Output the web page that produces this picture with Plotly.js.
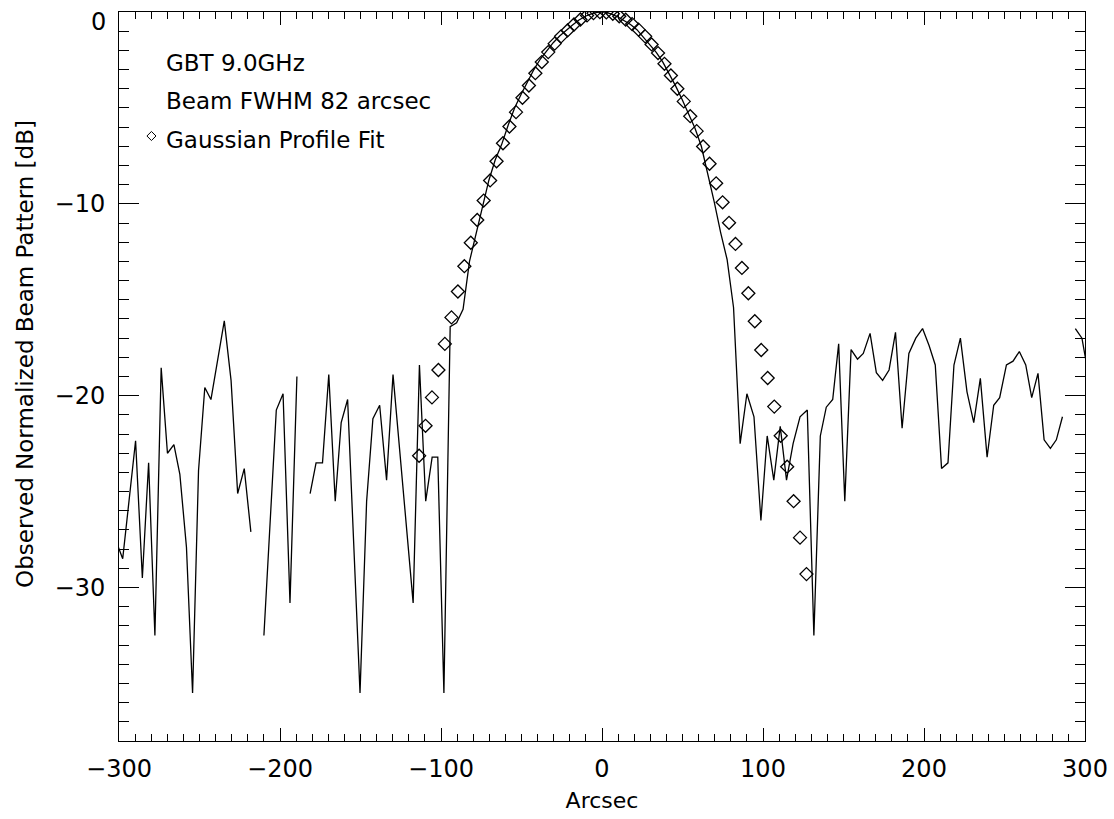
<!DOCTYPE html>
<html>
<head>
<meta charset="utf-8">
<script src="https://cdn.plot.ly/plotly-3.0.1.min.js"></script>
<style>html,body{margin:0;padding:0;background:#fff;}#chart{width:1114px;height:819px;}</style>
</head>
<body>
<div id="chart"></div>
<script>
// Observed beam pattern (arcsec, dB); null = gap in the measured line
const lineX = [-301.7, -297.7, -289.7, -285.5, -281.6, -277.7, -273.8, -269.9, -265.9, -262.2, -258.1, -254.3, -250.6, -246.7, -242.9, -238.7, -234.6, -230.4, -226.3, -222.2, -218.1, -214.0, -210.0, -202.3, -198.1, -193.8, -189.5, -185.4, -181.3, -177.6, -173.6, -169.7, -165.7, -162.0, -158.0, -150.3, -146.2, -142.3, -138.1, -133.8, -129.8, -117.3, -113.4, -109.5, -105.5, -102.0, -98.2, -94.3, -90.3, -86.3, -82.3, -78.3, -74.3, -70.3, -66.3, -62.3, -58.3, -54.3, -50.3, -46.3, -42.3, -38.3, -34.3, -30.3, -26.3, -22.3, -18.3, -14.3, -10.3, -6.3, -2.3, 1.7, 5.7, 9.7, 13.7, 17.7, 21.7, 25.7, 29.7, 33.7, 37.7, 41.7, 45.7, 49.7, 53.7, 57.7, 61.7, 65.7, 69.7, 73.7, 77.7, 81.7, 85.8, 90.0, 94.4, 98.7, 102.6, 106.7, 110.7, 114.6, 118.7, 123.0, 127.5, 131.6, 135.6, 139.3, 143.3, 147.0, 150.8, 154.7, 158.7, 162.3, 166.5, 170.4, 174.3, 178.3, 182.3, 186.4, 190.6, 194.9, 199.1, 203.2, 207.0, 210.9, 214.9, 218.6, 222.6, 226.7, 230.9, 235.0, 239.2, 243.3, 247.0, 251.2, 255.3, 259.2, 263.2, 266.9, 270.8, 274.6, 278.5, 282.2, 286.0, 290.0, 294.0, 298.1, 302.1];
const lineY = [-27.6, -28.5, -22.35, -29.5, -23.5, -32.5, -18.55, -23.0, -22.55, -24.1, -27.9, -35.5, -23.9, -19.57, -20.2, -18.1, -16.1, -19.2, -25.1, -23.8, -27.1, null, -32.5, -20.75, -19.9, -30.8, -19.0, null, -25.1, -23.5, -23.5, -18.9, -25.5, -21.4, -20.2, -35.5, -25.5, -21.2, -20.5, -24.4, -18.9, -30.8, -18.4, -25.5, -23.2, -23.2, -35.5, -16.4, -16.2, -15.5, -13.0, -11.55, -10.1, -8.78, -7.7, -6.9, -5.9, -5.0, -4.3, -3.65, -3.0, -2.45, -2.0, -1.6, -1.25, -0.95, -0.68, -0.42, -0.22, -0.08, -0.01, -0.01, -0.1, -0.25, -0.45, -0.65, -0.92, -1.3, -1.68, -2.1, -2.6, -3.2, -3.85, -4.55, -5.3, -6.05, -7.0, -8.4, -9.9, -11.5, -12.9, -15.4, -22.5, -19.9, -21.1, -26.5, -22.1, -24.4, -21.6, -24.4, -22.5, -21.1, -20.75, -32.5, -22.1, -20.6, -20.2, -17.3, -25.5, -17.6, -18.1, -17.8, -16.75, -18.8, -19.2, -18.66, -16.7, -21.7, -17.8, -17.0, -16.5, -17.4, -18.4, -23.8, -23.5, -18.4, -17.0, -19.8, -21.4, -19.1, -23.2, -20.5, -20.1, -18.4, -18.2, -17.7, -18.4, -20.1, -18.84, -22.3, -22.75, -22.3, -21.1, null, -16.5, -17.0, -18.9];

// Gaussian profile fit (diamonds)
const fitX = [-113.6, -109.6, -105.6, -101.6, -97.6, -93.5, -89.5, -85.5, -81.5, -77.5, -73.5, -69.5, -65.5, -61.5, -57.5, -53.4, -49.4, -45.4, -41.4, -37.4, -33.4, -29.4, -25.4, -21.4, -17.4, -13.4, -9.3, -5.3, -1.3, 2.7, 6.7, 10.7, 14.7, 18.7, 22.7, 26.8, 30.8, 34.8, 38.8, 42.8, 46.8, 50.8, 54.8, 58.8, 62.8, 66.8, 70.9, 74.9, 78.9, 82.9, 86.9, 90.9, 94.9, 98.9, 102.9, 107.0, 111.0, 115.0, 119.0, 123.0, 127.0];
const fitY = [-23.13, -21.57, -20.09, -18.66, -17.30, -15.92, -14.57, -13.25, -12.03, -10.84, -9.83, -8.78, -7.78, -6.84, -5.97, -5.22, -4.47, -3.83, -3.19, -2.61, -2.09, -1.65, -1.27, -0.96, -0.65, -0.39, -0.18, -0.06, -0.01, -0.02, -0.09, -0.22, -0.40, -0.63, -0.92, -1.27, -1.69, -2.14, -2.70, -3.31, -4.00, -4.66, -5.43, -6.21, -7.01, -7.91, -8.93, -9.92, -10.99, -12.09, -13.34, -14.66, -16.12, -17.62, -19.08, -20.57, -22.09, -23.70, -25.5, -27.4, -29.3];

const xTicks = [-300, -200, -100, 0, 100, 200, 300];
const xTickText = ['\u2212300', '\u2212200', '\u2212100', '0', '100', '200', '300'];
const yTicks = [-30, -20, -10, 0];
// the top label "0" is drawn separately, nudged down inside the figure as in the reference
const yTickText = ['\u221230', '\u221220', '\u221210', ''];
const yTopLabel = '0';
const labels = ['GBT 9.0GHz', 'Beam FWHM 82 arcsec', 'Gaussian Profile Fit'];
const yTitle = 'Observed Normalized Beam Pattern [dB]';

const FONT = 'DejaVu Sans, Liberation Sans, sans-serif';

const traces = [
  {x: lineX, y: lineY, type: 'scatter', mode: 'lines', connectgaps: false,
   line: {color: '#000', width: 1.3}, hoverinfo: 'skip'},
  {x: fitX, y: fitY, type: 'scatter', mode: 'markers',
   marker: {symbol: 'diamond-open', size: 10, color: '#000', line: {width: 1.3, color: '#000'}},
   hoverinfo: 'skip'}
];

const axisCommon = {
  showgrid: false, zeroline: false, showline: true, linecolor: '#000', linewidth: 1,
  mirror: 'allticks', ticks: 'inside', tickcolor: '#000', tickwidth: 1,
  tickfont: {family: FONT, size: 24, color: '#000'}, tickmode: 'array'
};

// small open diamond used as the legend key (paper coordinates)
const kx = 0.0336, ky = 0.8299, kdx = 0.0047, kdy = 0.0062;

const layout = {
  width: 1114, height: 819,
  margin: {l: 119, r: 29, t: 12, b: 78},
  paper_bgcolor: '#fff', plot_bgcolor: '#fff',
  showlegend: false,
  xaxis: Object.assign({}, axisCommon, {
    range: [-300, 300], tickvals: xTicks, ticktext: xTickText, ticklen: 13,
    minor: {dtick: 10, ticks: 'inside', ticklen: 7, tickcolor: '#000', tickwidth: 1, showgrid: false},
    ticklabelstandoff: 6,
    title: {text: 'Arcsec', font: {family: FONT, size: 22, color: '#000'}, standoff: 10}
  }),
  yaxis: Object.assign({}, axisCommon, {
    range: [-38, 0], tickvals: yTicks, ticktext: yTickText, ticklen: 20,
    minor: {dtick: 1, ticks: 'inside', ticklen: 10, tickcolor: '#000', tickwidth: 1, showgrid: false},
    ticklabelstandoff: 8
  }),
  shapes: [
    {type: 'path', xref: 'paper', yref: 'paper',
     path: 'M ' + (kx - kdx) + ' ' + ky + ' L ' + kx + ' ' + (ky + kdy) + ' L ' + (kx + kdx) + ' ' + ky + ' L ' + kx + ' ' + (ky - kdy) + ' Z',
     line: {color: '#000', width: 1}, fillcolor: 'rgba(0,0,0,0)'}
  ],
  annotations: [
    {xref: 'paper', yref: 'paper', x: -0.0114, y: 0.9863, xanchor: 'right', yanchor: 'middle', showarrow: false,
     text: yTopLabel, font: {family: FONT, size: 24, color: '#000'}},
    {xref: 'paper', yref: 'paper', x: -0.0973, y: 0.531, xanchor: 'center', yanchor: 'middle', showarrow: false,
     textangle: -90, text: yTitle, font: {family: FONT, size: 23, color: '#000'}},
    {xref: 'paper', yref: 'paper', x: 0.0466, y: 0.9307, xanchor: 'left', yanchor: 'middle', showarrow: false,
     text: labels[0], font: {family: FONT, size: 23, color: '#000'}},
    {xref: 'paper', yref: 'paper', x: 0.0466, y: 0.8786, xanchor: 'left', yanchor: 'middle', showarrow: false,
     text: labels[1], font: {family: FONT, size: 23, color: '#000'}},
    {xref: 'paper', yref: 'paper', x: 0.0466, y: 0.8251, xanchor: 'left', yanchor: 'middle', showarrow: false,
     text: labels[2], font: {family: FONT, size: 23, color: '#000'}}
  ]
};

Plotly.newPlot('chart', traces, layout, {staticPlot: true, displayModeBar: false});
</script>
</body>
</html>
